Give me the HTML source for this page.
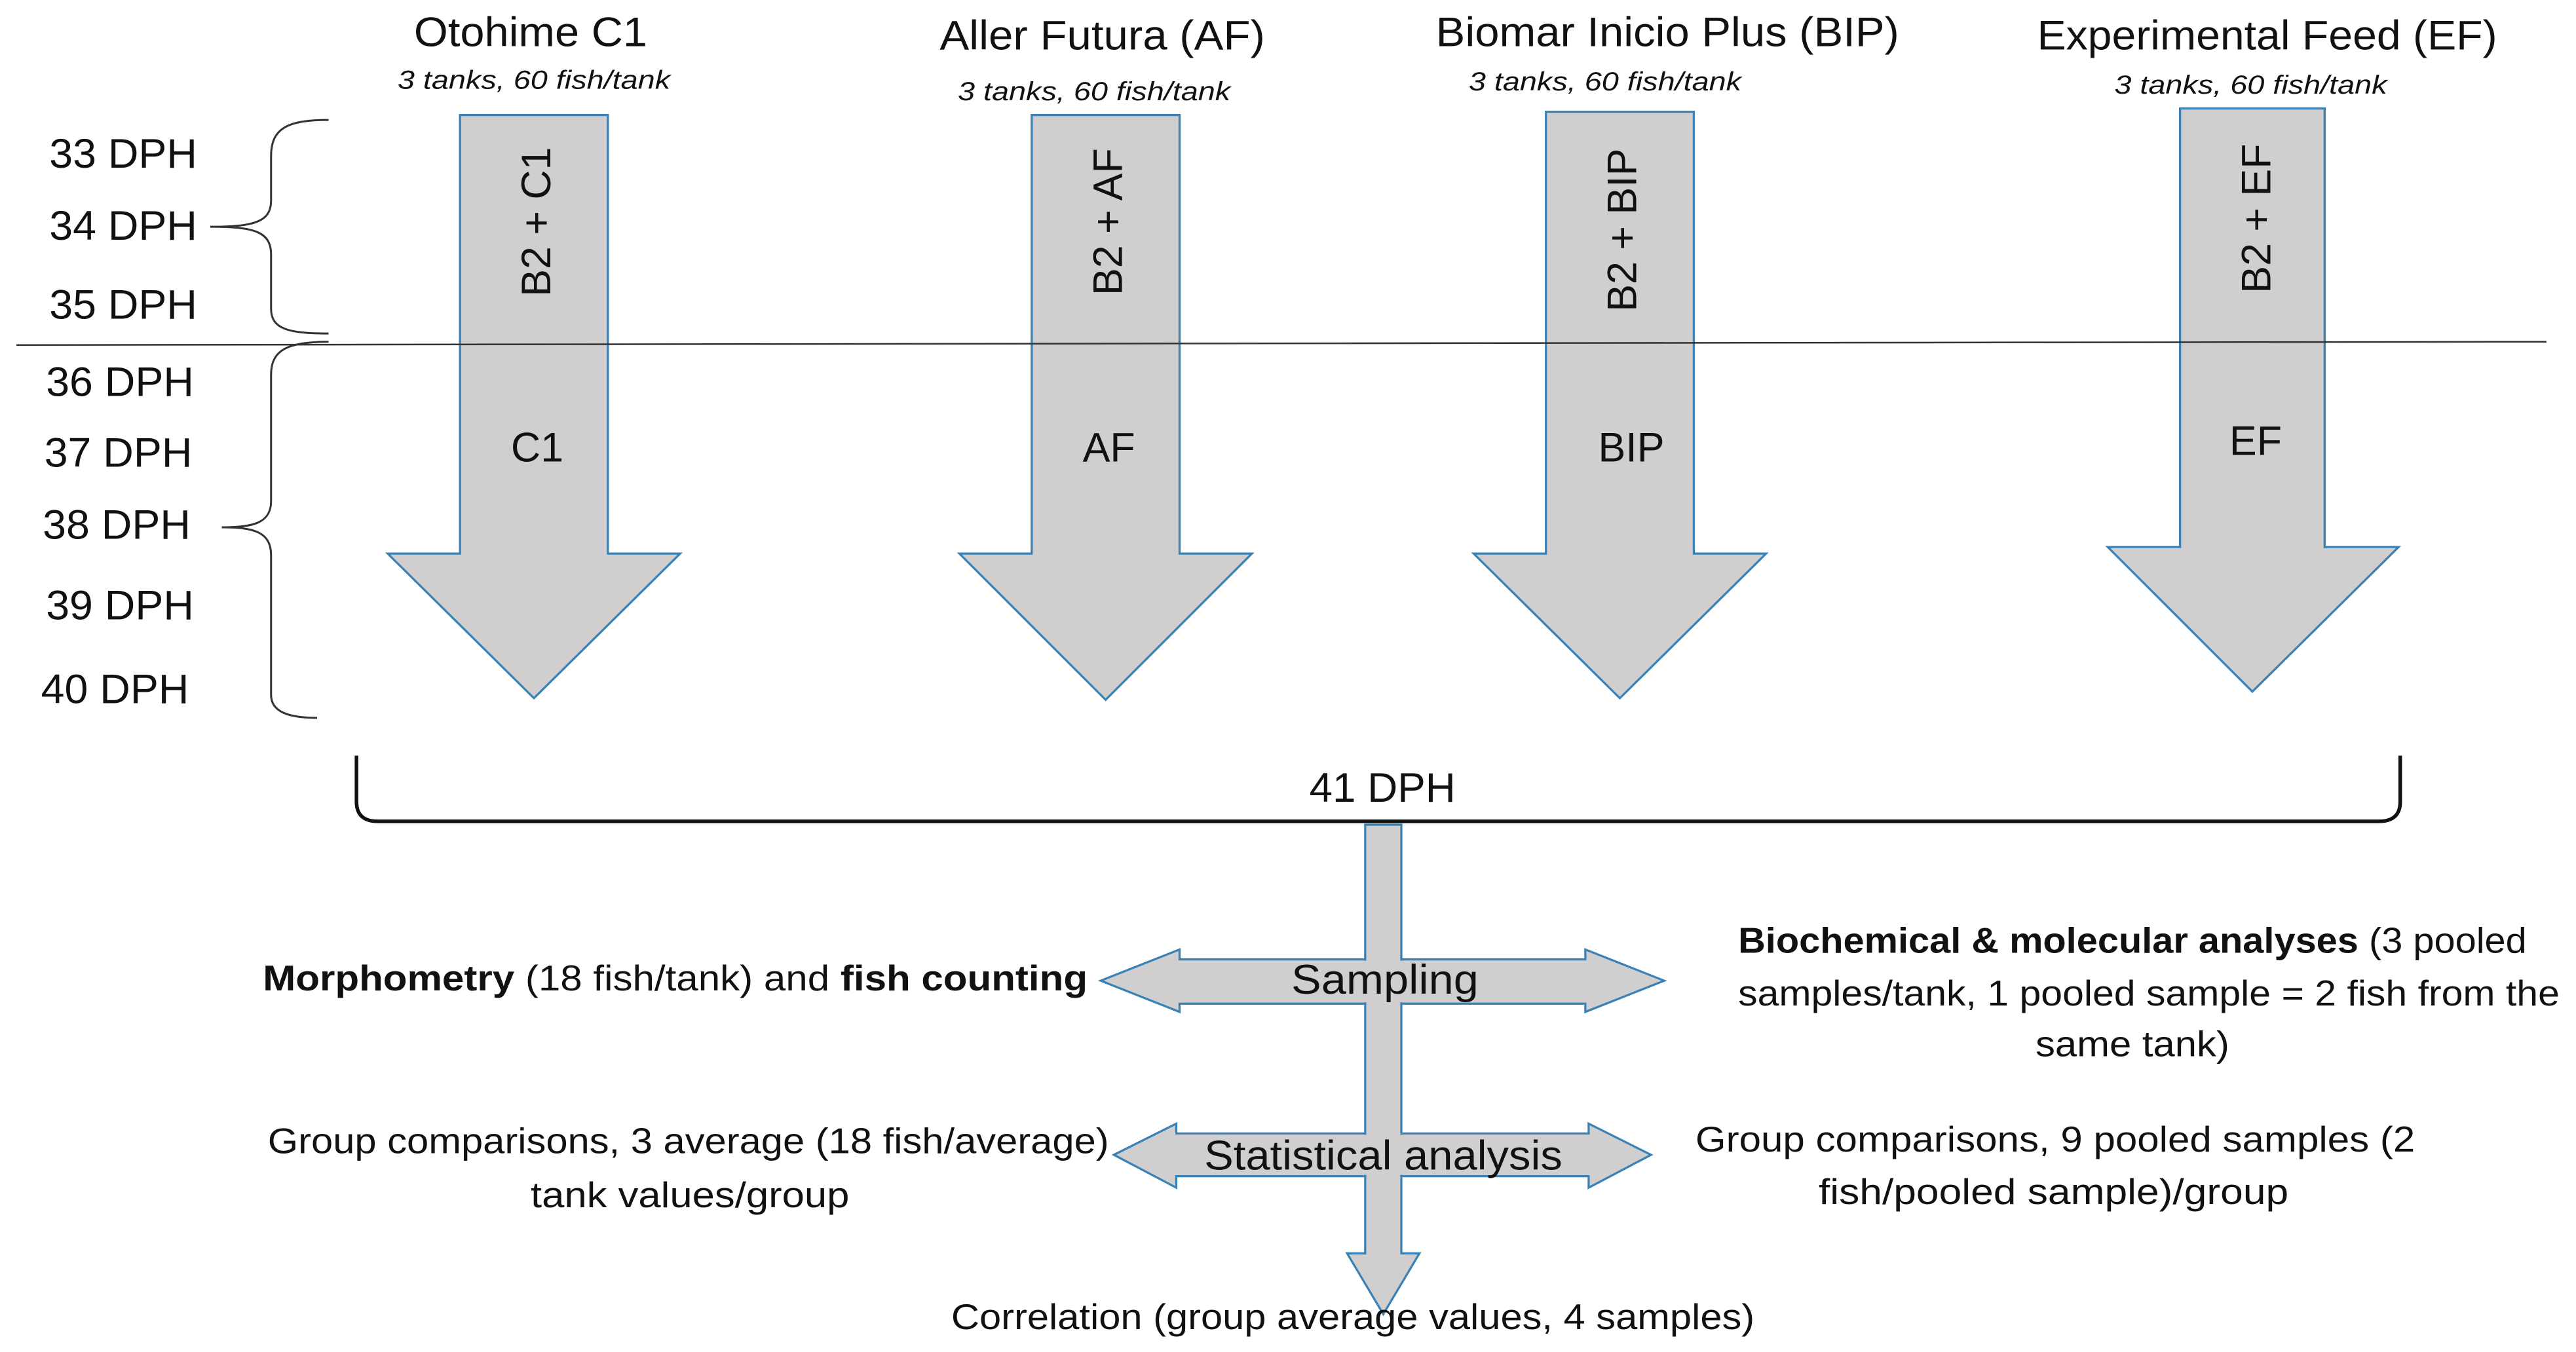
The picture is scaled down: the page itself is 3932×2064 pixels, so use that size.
<!DOCTYPE html>
<html><head><meta charset="utf-8"><style>
html,body{margin:0;padding:0;background:#fff;}
svg{display:block;}
text{font-family:"Liberation Sans",sans-serif;fill:#111;}
</style></head><body>
<svg width="3932" height="2064" viewBox="0 0 1568 823" xmlns="http://www.w3.org/2000/svg">
<rect width="1568" height="823" fill="#fff"/>
<g fill="#d0cece" stroke="#3a82b5" stroke-width="1.3">
<polygon points="280,70 370,70 370,337 414,337 325,425 236,337 280,337"/>
<polygon points="628,70 718,70 718,337 762,337 673,426 584,337 628,337"/>
<polygon points="941,68 1031,68 1031,337 1075,337 986,425 897,337 941,337"/>
<polygon points="1327,66 1415,66 1415,333 1460,333 1371,421 1283,333 1327,333"/>
<polygon points="670,597 718,578 718,584 965,584 965,578 1013,597 965,616 965,611 718,611 718,616"/>
<polygon points="678,703 716,684 716,690 967,690 967,684 1005,703 967,723 967,716 716,716 716,723"/>
<polygon points="831,502 853,502 853,763 864,763 842,800 820,763 831,763"/>
</g>
<g fill="#d0cece">
<rect x="831.8" y="583" width="20.4" height="29"/>
<rect x="829" y="584.8" width="26" height="25.4"/>
<rect x="831.8" y="689" width="20.4" height="28"/>
<rect x="829" y="690.8" width="26" height="24.4"/>
</g>
<line x1="10" y1="210" x2="1550" y2="208" stroke="#333" stroke-width="1"/>
<g fill="none" stroke="#333" stroke-width="1.2">
<path d="M200,73 C175,73 165,78 165,95 L165,122 C165,135 155,138 128,138 C155,138 165,141 165,155 L165,188 C165,200 175,203 200,203"/>
<path d="M200,208 C175,208 165,213 165,228 L165,305 C165,318 155,321 135,321 C155,321 165,324 165,338 L165,423 C165,433 175,437 193,437"/>
</g>
<path d="M217,460 L217,488 Q217,500 230,500 L1448,500 Q1461,500 1461,488 L1461,460" fill="none" stroke="#111" stroke-width="2.2"/>
<g font-size="25" lengthAdjust="spacingAndGlyphs">
<text x="252" y="28" textLength="142" lengthAdjust="spacingAndGlyphs">Otohime C1</text>
<text x="572" y="30" textLength="198" lengthAdjust="spacingAndGlyphs">Aller Futura (AF)</text>
<text x="874" y="28" textLength="282" lengthAdjust="spacingAndGlyphs">Biomar Inicio Plus (BIP)</text>
<text x="1240" y="30" textLength="280" lengthAdjust="spacingAndGlyphs">Experimental Feed (EF)</text>
</g>
<g font-size="25" text-anchor="middle">
<text x="327" y="281">C1</text>
<text x="675" y="281">AF</text>
<text x="993" y="281">BIP</text>
<text x="1373" y="277">EF</text>
</g>
<text x="797" y="488" font-size="25" textLength="89" lengthAdjust="spacingAndGlyphs">41 DPH</text>
<text x="786" y="605" font-size="25" textLength="114" lengthAdjust="spacingAndGlyphs">Sampling</text>
<text x="733" y="712" font-size="25" textLength="218" lengthAdjust="spacingAndGlyphs">Statistical analysis</text>
<g font-size="16" font-style="italic">
<text x="242" y="54" textLength="166" lengthAdjust="spacingAndGlyphs">3 tanks, 60 fish/tank</text>
<text x="583" y="61" textLength="166" lengthAdjust="spacingAndGlyphs">3 tanks, 60 fish/tank</text>
<text x="894" y="55" textLength="166" lengthAdjust="spacingAndGlyphs">3 tanks, 60 fish/tank</text>
<text x="1287" y="57" textLength="166" lengthAdjust="spacingAndGlyphs">3 tanks, 60 fish/tank</text>
</g>
<g font-size="25" text-anchor="middle">
<text transform="translate(335,135) rotate(-90)">B2 + C1</text>
<text transform="translate(683,135) rotate(-90)">B2 + AF</text>
<text transform="translate(996,140) rotate(-90)">B2 + BIP</text>
<text transform="translate(1382,133) rotate(-90)">B2 + EF</text>
</g>
<g font-size="25">
<text x="30" y="102" textLength="90" lengthAdjust="spacingAndGlyphs">33 DPH</text>
<text x="30" y="146" textLength="90" lengthAdjust="spacingAndGlyphs">34 DPH</text>
<text x="30" y="194" textLength="90" lengthAdjust="spacingAndGlyphs">35 DPH</text>
<text x="28" y="241" textLength="90" lengthAdjust="spacingAndGlyphs">36 DPH</text>
<text x="27" y="284" textLength="90" lengthAdjust="spacingAndGlyphs">37 DPH</text>
<text x="26" y="328" textLength="90" lengthAdjust="spacingAndGlyphs">38 DPH</text>
<text x="28" y="377" textLength="90" lengthAdjust="spacingAndGlyphs">39 DPH</text>
<text x="25" y="428" textLength="90" lengthAdjust="spacingAndGlyphs">40 DPH</text>
</g>
<g font-size="22">
<text x="160" y="603" textLength="502" lengthAdjust="spacingAndGlyphs"><tspan font-weight="bold">Morphometry</tspan> (18 fish/tank) and <tspan font-weight="bold">fish counting</tspan></text>
<text x="1058" y="580" textLength="480" lengthAdjust="spacingAndGlyphs"><tspan font-weight="bold">Biochemical &amp; molecular analyses</tspan> (3 pooled</text>
<text x="1058" y="612" textLength="500" lengthAdjust="spacingAndGlyphs">samples/tank, 1 pooled sample = 2 fish from the</text>
<text x="1239" y="643" textLength="118" lengthAdjust="spacingAndGlyphs">same tank)</text>
<text x="163" y="702" textLength="512" lengthAdjust="spacingAndGlyphs">Group comparisons, 3 average (18 fish/average)</text>
<text x="323" y="735" textLength="194" lengthAdjust="spacingAndGlyphs">tank values/group</text>
<text x="1032" y="701" textLength="438" lengthAdjust="spacingAndGlyphs">Group comparisons, 9 pooled samples (2</text>
<text x="1107" y="733" textLength="286" lengthAdjust="spacingAndGlyphs">fish/pooled sample)/group</text>
<text x="579" y="809" textLength="489" lengthAdjust="spacingAndGlyphs">Correlation (group average values, 4 samples)</text>
</g>
</svg>
</body></html>
